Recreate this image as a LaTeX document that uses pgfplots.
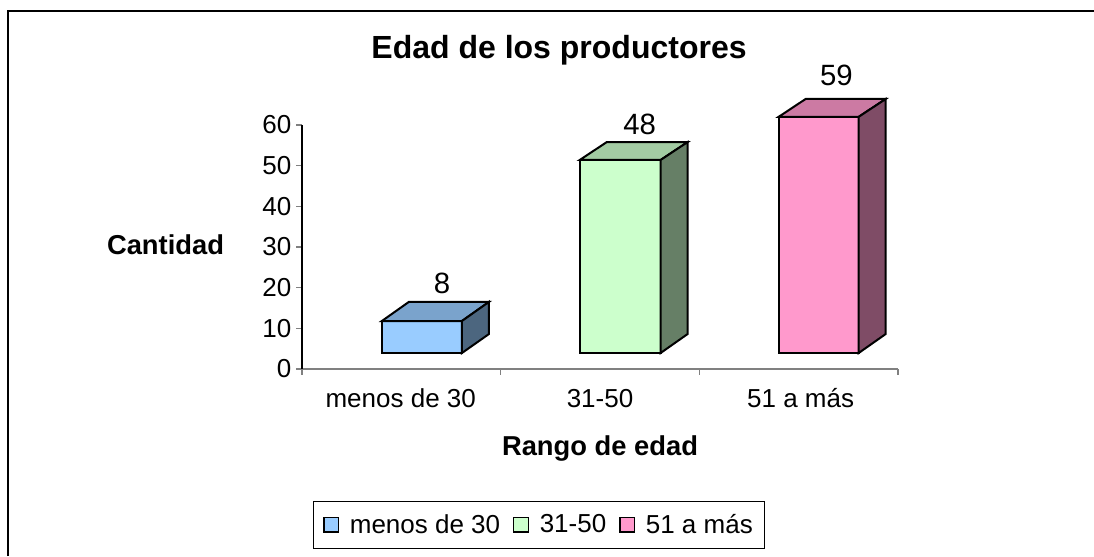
\documentclass[border=0pt]{standalone}
\usepackage{fontspec}
\setmainfont{Liberation Sans}
\usepackage{pgfplots}
\pgfplotsset{compat=1.18}
\definecolor{azul}{HTML}{99CCFF}
\definecolor{azultop}{HTML}{7AA3CC}
\definecolor{azulside}{HTML}{4C667F}
\definecolor{verde}{HTML}{CCFFCC}
\definecolor{verdetop}{HTML}{A3CCA3}
\definecolor{verdeside}{HTML}{667F66}
\definecolor{rosa}{HTML}{FF99CC}
\definecolor{rosatop}{HTML}{CC7AA3}
\definecolor{rosaside}{HTML}{7F4C66}
\begin{document}
\begin{tikzpicture}[x=0.75pt,y=0.75pt]
\path[use as bounding box] (0,0) rectangle (1094,556);
\draw[line width=1.2pt] (8,0) -- (8,545) -- (1094,545);
\begin{axis}[
    at={(226.5pt,140.25pt)}, anchor=origin,
    scale only axis, width=447pt, height=183pt,
    xmin=0, xmax=3, ymin=0, ymax=60,
    clip=false,
    axis x line=bottom, axis y line=left,
    axis line style={-, line width=0.8pt},
    x axis line style={gray},
    xtick={0,1,2,3}, xticklabels={},
    ytick={0,10,...,60},
    tick align=outside, major tick length=4.5pt,
    tick style={gray, line width=0.8pt},
    tick label style={font=\fontsize{19.5}{22}\selectfont},
    /pgf/number format/assume math mode=true,
    legend columns=3,
    legend style={at={(0.398,-0.639)}, anchor=center, draw=black, line width=0.6pt,
        font=\fontsize{19.5}{22}\selectfont, inner xsep=7pt, inner ysep=7.5pt,
        /tikz/every odd column/.append style={column sep=6pt},
        /tikz/every even column/.append style={column sep=7.5pt}},
    legend cell align=left,
    legend image code/.code={\draw[#1, line width=1.2pt] (0pt,-5.5pt) rectangle (11pt,5.5pt);},
]
% menos de 30: caras frontal, superior, lateral
\addplot[draw=black, line width=1.5pt, fill=azul] coordinates {(0.402,3.93) (0.805,3.93) (0.805,11.8) (0.402,11.8)} --cycle;
\addplot[draw=black, line width=1.5pt, fill=verde] coordinates {(1.398,3.93) (1.805,3.93) (1.805,51.4) (1.398,51.4)} --cycle;
\addplot[draw=black, line width=1.5pt, fill=rosa] coordinates {(2.399,3.93) (2.802,3.93) (2.802,62) (2.399,62)} --cycle;
\legend{menos de 30,31-50,51 a más}
\addplot[forget plot, draw=black, line width=1.5pt, fill=azultop] coordinates {(0.402,11.8) (0.805,11.8) (0.941,16.5) (0.538,16.5)} --cycle;
\addplot[forget plot, draw=black, line width=1.5pt, fill=azulside] coordinates {(0.805,3.93) (0.941,8.6) (0.941,16.5) (0.805,11.8)} --cycle;
\addplot[forget plot, draw=black, line width=1.5pt, fill=verdetop] coordinates {(1.398,51.4) (1.805,51.4) (1.941,55.8) (1.534,55.8)} --cycle;
\addplot[forget plot, draw=black, line width=1.5pt, fill=verdeside] coordinates {(1.805,3.93) (1.941,8.6) (1.941,55.8) (1.805,51.4)} --cycle;
\addplot[forget plot, draw=black, line width=1.5pt, fill=rosatop] coordinates {(2.399,62) (2.802,62) (2.938,66.4) (2.535,66.4)} --cycle;
\addplot[forget plot, draw=black, line width=1.5pt, fill=rosaside] coordinates {(2.802,3.93) (2.938,8.6) (2.938,66.4) (2.802,62)} --cycle;
% etiquetas de datos
\addplot[forget plot, draw=none, mark=none, nodes near coords, point meta=explicit symbolic,
    every node near coord/.append style={anchor=center, font=\fontsize{22}{24}\selectfont}]
    coordinates {(0.705,21.0)[8] (1.70,60.2)[48] (2.69,72.2)[59]};
% categorias
\node[font=\fontsize{19.5}{22}\selectfont] at (axis cs:0.497,-7.2) {menos de 30};
\node[font=\fontsize{19.5}{22}\selectfont] at (axis cs:1.5,-7.2) {31-50};
\node[font=\fontsize{19.5}{22}\selectfont] at (axis cs:2.51,-7.2) {51 a más};
\end{axis}
\node[font=\bfseries\fontsize{24}{28}\selectfont] at (559,506) {Edad de los productores};
\node[font=\bfseries\fontsize{20.5}{24}\selectfont] at (165.5,311) {Cantidad};
\node[font=\bfseries\fontsize{20.5}{24}\selectfont] at (600,108) {Rango de edad};
\end{tikzpicture}
\end{document}
